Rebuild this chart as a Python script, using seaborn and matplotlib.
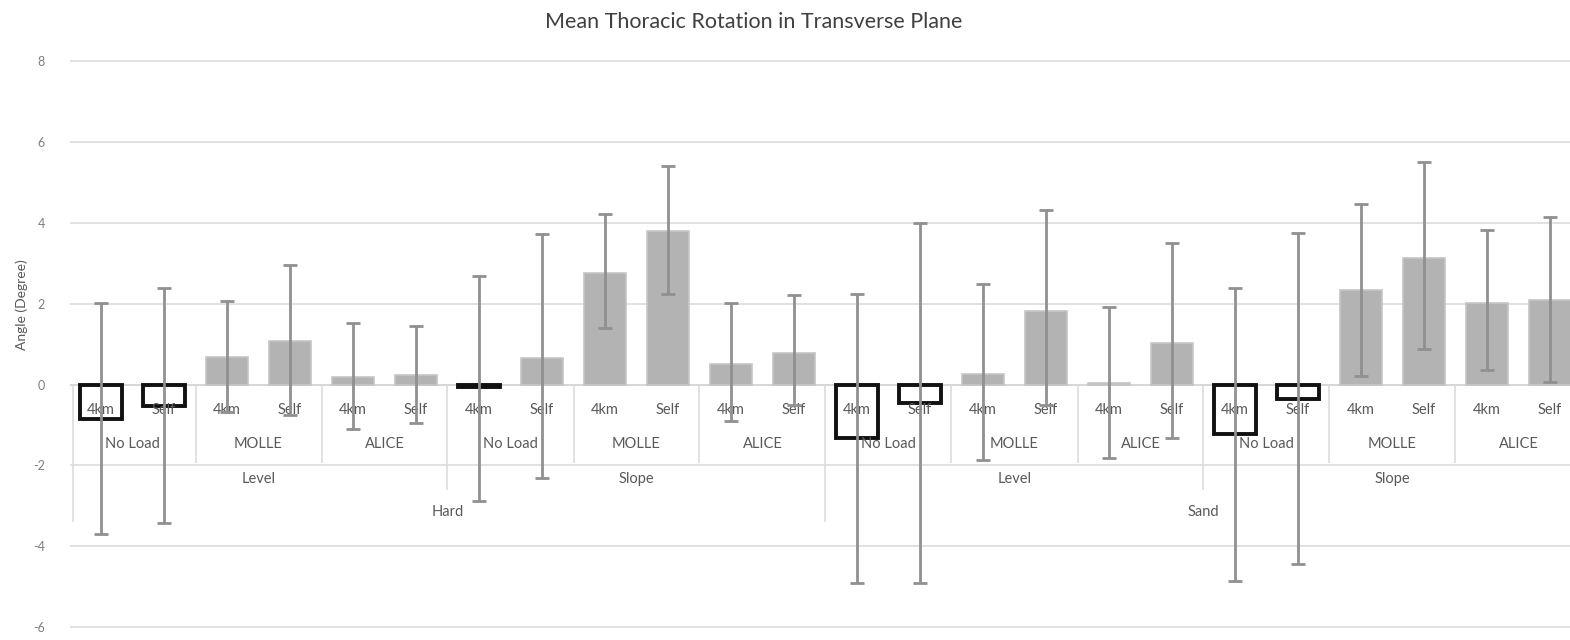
import numpy as np
import pandas as pd
import matplotlib
matplotlib.use("Agg")
import matplotlib.pyplot as plt
import seaborn as sns

# ---- data ----
surfaces = ["Hard", "Sand"]
grades = ["Level", "Slope"]
loads = ["No Load", "MOLLE", "ALICE"]
paces = ["4km", "Self"]

means = [-0.84, -0.52, 0.69, 1.09, 0.20, 0.25,
         -0.07, 0.67, 2.77, 3.79, 0.52, 0.77,
         -1.31, -0.45, 0.27, 1.83, 0.03, 1.02,
         -1.22, -0.35, 2.33, 3.14, 2.03, 2.10]
upper = [2.03, 2.38, 2.08, 2.97, 1.53, 1.44,
         2.70, 3.74, 4.23, 5.42, 2.03, 2.23,
         2.25, 4.01, 2.48, 4.33, 1.91, 3.51,
         2.40, 3.76, 4.46, 5.50, 3.83, 4.16]
lower = [-3.69, -3.42, -0.68, -0.75, -1.09, -0.94,
         -2.87, -2.30, 1.39, 2.25, -0.89, -0.50,
         -4.90, -4.90, -1.86, -0.50, -1.81, -1.31,
         -4.85, -4.43, 0.22, 0.87, 0.35, 0.07]
yticks = [-6, -4, -2, 0, 2, 4, 6, 8]
title = "Mean Thoracic Rotation in Transverse Plane"
ylabel = "Angle (Degree)"

# ---- build table ----
rows = []
for s in surfaces:
    for g in grades:
        for l in loads:
            for p in paces:
                rows.append((s, g, l, p))
df = pd.DataFrame(rows, columns=["surface", "grade", "load", "pace"])
df["cond"] = df["surface"] + "|" + df["grade"] + "|" + df["load"] + "|" + df["pace"]
df["mean"] = means
df["upper"] = upper
df["lower"] = lower
df["sign"] = np.where(df["mean"] < 0, "neg", "pos")

FONT = ["Lato", "DejaVu Sans"]
plt.rcParams["font.family"] = FONT

W, H = 1570, 640
fig = plt.figure(figsize=(W / 100, H / 100), dpi=100)
ppu = 40.4  # pixels per unit on y
y_lo, y_hi = -6.1, 8.1
bottom_px = 627 + 0.1 * ppu
ax = fig.add_axes([70 / W, (H - bottom_px) / H, 1 - 70 / W, (y_hi - y_lo) * ppu / H])

sns.barplot(data=df, x="cond", y="mean", hue="sign", order=list(df["cond"]),
            palette={"pos": "#b3b3b3", "neg": "white"}, dodge=False, width=0.68,
            errorbar=None, legend=False, ax=ax, zorder=2)
for p in ax.patches:
    if p.get_height() < 0:
        p.set_edgecolor("#111111")
        p.set_linewidth(2.8)
    else:
        p.set_edgecolor("#c6c6c6")
        p.set_linewidth(1.2)
    p.set_zorder(2)

xs = np.arange(len(df))
m = df["mean"].to_numpy()
ax.errorbar(xs, m, yerr=[m - df["lower"].to_numpy(), df["upper"].to_numpy() - m],
            fmt="none", ecolor="#909090", elinewidth=2, capsize=5, capthick=2, zorder=4)

# axes styling
ax.set_ylim(y_lo, y_hi)
x_left = -(101 - 70) / 63
ax.set_xlim(x_left, x_left + (W - 70) / 63)
ax.set_yticks(yticks)
ax.set_yticklabels([str(t) for t in yticks], color="#7f7f7f", fontsize=9)
ax.tick_params(axis="y", length=0, pad=18)
ax.set_xticks([])
ax.set_xlabel("")
ax.set_ylabel("")
for sp in ax.spines.values():
    sp.set_visible(False)
ax.yaxis.grid(True, color="#dcdcdc", lw=1.2)
ax.set_axisbelow(True)
ax.axhline(0, color="#d6d6d6", lw=1.2, zorder=1)

# multi-level category labels
lab_col = "#595959"
fs = 10.5
y1, y2, y3, y4 = -0.62, -1.47, -2.33, -3.15
for i, p in enumerate(df["pace"]):
    ax.text(i, y1, p, ha="center", va="center", fontsize=fs, color=lab_col, zorder=3)
for k in range(len(df) // 2):
    ax.text(2 * k + 0.5, y2, df["load"].iloc[2 * k], ha="center", va="center",
            fontsize=fs, color=lab_col, zorder=3)
for k in range(len(df) // 6):
    ax.text(6 * k + 2.5, y3, df["grade"].iloc[6 * k], ha="center", va="center",
            fontsize=fs, color=lab_col, zorder=3)
for k in range(len(df) // 12):
    ax.text(12 * k + 5.5, y4, df["surface"].iloc[12 * k], ha="center", va="center",
            fontsize=fs, color=lab_col, zorder=3)

sep_col = "#dcdcdc"
for b in range(2, len(df), 2):
    if b % 12 == 0:
        ymin = -3.4
    elif b % 6 == 0:
        ymin = -2.6
    else:
        ymin = -1.95
    ax.vlines(b - 0.5, ymin, 0, color=sep_col, lw=1.2, zorder=1)
ax.vlines(x_left + 0.05, -3.4, 0, color=sep_col, lw=1.2, zorder=1)

fig.text(754 / W, 1 - 22 / H, title, ha="center", va="center", fontsize=15.5, color="#404040")
fig.text(22 / W, 1 - 305 / H, ylabel, ha="center", va="center", rotation=90,
         fontsize=10, color="#595959")

fig.savefig("out.png", dpi=100, facecolor="white")
